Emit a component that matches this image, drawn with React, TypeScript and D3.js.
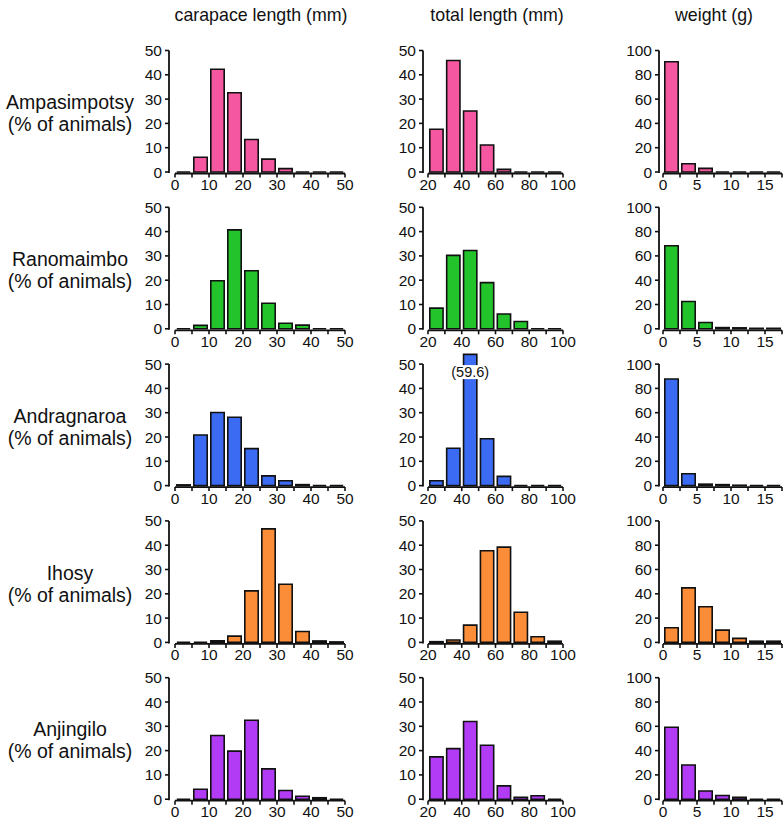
import React from "react";
import * as d3 from "d3";

const sites = ["Ampasimpotsy", "Ranomaimbo", "Andragnaroa", "Ihosy", "Anjingilo"];
const siteColors = ["#f557a0", "#23c42b", "#3b6bf3", "#fb8d38", "#b23cf6"];
const columnTitles = ["carapace length (mm)", "total length (mm)", "weight (g)"];

// bin edges
const carapaceEdges = [0, 5, 10, 15, 20, 25, 30, 35, 40, 45, 50];
const totalEdges = [20, 30, 40, 50, 60, 70, 80, 90, 100];
const weightEdges = [0, 2.5, 5, 7.5, 10, 12.5, 15, 17.5];

const carapaceTicks = [0, 10, 20, 30, 40, 50];
const totalTicks = [20, 40, 60, 80, 100];
const weightTicks = [0, 5, 10, 15];
const pctTicks50 = [0, 10, 20, 30, 40, 50];
const pctTicks100 = [0, 20, 40, 60, 80, 100];

// % of animals per bin
const carapaceAmpasimpotsy = [0, 6.1, 42.3, 32.6, 13.4, 5.3, 1.4, 0, 0, 0];
const carapaceRanomaimbo = [0, 1.4, 19.8, 40.7, 23.9, 10.5, 2.3, 1.5, 0, 0];
const carapaceAndragnaroa = [0.3, 20.8, 30.1, 28.1, 15.2, 4.0, 2.0, 0.4, 0, 0];
const carapaceIhosy = [0, 0, 0.7, 2.6, 21.2, 46.7, 23.9, 4.5, 0.6, 0.2];
const carapaceAnjingilo = [0, 4.1, 26.2, 19.8, 32.5, 12.5, 3.6, 1.2, 0.6, 0];

const totalAmpasimpotsy = [17.6, 45.9, 25.1, 11.1, 1.1, 0, 0, 0];
const totalRanomaimbo = [8.5, 30.2, 32.2, 19.0, 6.1, 3.0, 0, 0];
const totalAndragnaroa = [2.0, 15.4, 59.6, 19.3, 3.8, 0, 0, 0];
const totalIhosy = [0.3, 1.0, 7.1, 37.7, 39.2, 12.4, 2.3, 0.5];
const totalAnjingilo = [17.4, 20.8, 32.0, 22.2, 5.5, 0.8, 1.4, 0];

const weightAmpasimpotsy = [90.7, 6.8, 3.0, 0, 0, 0, 0];
const weightRanomaimbo = [68.4, 22.5, 5.2, 1.0, 0.8, 0.4, 0.4];
const weightAndragnaroa = [87.7, 9.8, 1.2, 0.8, 0.3, 0, 0];
const weightIhosy = [12.1, 44.9, 29.3, 10.1, 3.3, 1.0, 1.0];
const weightAnjingilo = [59.2, 28.2, 6.8, 3.0, 1.5, 0, 0];

const carapaceData = [carapaceAmpasimpotsy, carapaceRanomaimbo, carapaceAndragnaroa, carapaceIhosy, carapaceAnjingilo];
const totalData = [totalAmpasimpotsy, totalRanomaimbo, totalAndragnaroa, totalIhosy, totalAnjingilo];
const weightData = [weightAmpasimpotsy, weightRanomaimbo, weightAndragnaroa, weightIhosy, weightAnjingilo];

const FONT = "Arial, 'Liberation Sans', Helvetica, sans-serif";

const columns = [
  { edges: carapaceEdges, labels: carapaceTicks, yTicks: pctTicks50, yMax: 50, data: carapaceData, axisX: 169, x0: 175, x1: 345, cx: 261 },
  { edges: totalEdges, labels: totalTicks, yTicks: pctTicks50, yMax: 50, data: totalData, axisX: 423, x0: 428, x1: 563, cx: 497 },
  { edges: weightEdges, labels: weightTicks, yTicks: pctTicks100, yMax: 100, data: weightData, axisX: 659, x0: 663, x1: 782, cx: 714 },
];

const ROW_Y0 = 172;
const ROW_STEP = 156.8;
const PLOT_H = 121.5;
const CLIP_FRAC = 1.08; // clipped bar extends slightly above axis max

function Panel({ col, r }: { col: any; r: number }) {
  const y0 = ROW_Y0 + ROW_STEP * r;
  const x = d3.scaleLinear().domain([col.edges[0], col.edges[col.edges.length - 1]]).range([col.x0, col.x1]);
  const y = d3.scaleLinear().domain([0, col.yMax]).range([y0, y0 - PLOT_H]);
  const vals: number[] = col.data[r];
  const inset = 1.8;
  const color = siteColors[r];
  const axisY = y0 + 1.5;
  const clipped: { cx: number; v: number }[] = [];
  return (
    <g>
      {vals.map((v, i) => {
        const xa = x(col.edges[i]) + inset;
        const xb = x(col.edges[i + 1]) - inset;
        const vv = Math.min(v, col.yMax * CLIP_FRAC);
        if (v > col.yMax * CLIP_FRAC) clipped.push({ cx: (xa + xb) / 2, v });
        const yt = y(vv);
        const p = d3.path();
        p.moveTo(xa, y0);
        p.lineTo(xa, yt);
        p.lineTo(xb, yt);
        p.lineTo(xb, y0);
        p.closePath();
        return <path key={i} d={p.toString()} fill={color} stroke="#111" strokeWidth={1.6} strokeLinejoin="miter" />;
      })}
      {clipped.map((c, i) => (
        <g key={"c" + i}>
          <rect x={c.cx - 20} y={y(col.yMax) + 1} width={40} height={14} fill="#fff" />
          <text x={c.cx} y={y(col.yMax) + 13} textAnchor="middle" fontSize={14.5} fontFamily={FONT} fill="#111">
            ({c.v.toFixed(1)})
          </text>
        </g>
      ))}
      <line x1={col.axisX} x2={col.axisX} y1={y(col.yMax)} y2={y0 + 1} stroke="#111" strokeWidth={1.8} />
      {col.yTicks.map((t: number) => (
        <g key={"y" + t}>
          <line x1={col.axisX - 4} x2={col.axisX} y1={y(t)} y2={y(t)} stroke="#111" strokeWidth={1.6} />
          <text x={col.axisX - 7} y={y(t)} dy="0.36em" textAnchor="end" fontSize={15.5} fontFamily={FONT} fill="#111">
            {t}
          </text>
        </g>
      ))}
      <line x1={col.x0} x2={col.x1} y1={axisY} y2={axisY} stroke="#111" strokeWidth={1.8} />
      {col.edges.map((t: number) => (
        <line key={"xt" + t} x1={x(t)} x2={x(t)} y1={axisY} y2={axisY + 4} stroke="#111" strokeWidth={1.6} />
      ))}
      {col.labels.map((t: number) => (
        <text key={"xl" + t} x={x(t)} y={y0 + 18} textAnchor="middle" fontSize={15.5} fontFamily={FONT} fill="#111">
          {t}
        </text>
      ))}
    </g>
  );
}

export default function App() {
  return (
    <svg width={784} height={821} style={{ position: "absolute", left: 0, top: 0, background: "#fff" }}>
      <rect width={784} height={821} fill="#fff" />
      {columns.map((c, i) => (
        <text key={"t" + i} x={c.cx} y={21} textAnchor="middle" fontSize={17.8} fontFamily={FONT} fill="#111">
          {columnTitles[i]}
        </text>
      ))}
      {sites.map((s, r) => {
        const mid = ROW_Y0 + ROW_STEP * r - PLOT_H / 2;
        return (
          <g key={s}>
            <text x={70} y={mid - 2} textAnchor="middle" fontSize={19.5} fontFamily={FONT} fill="#111">
              {s}
            </text>
            <text x={70} y={mid + 20} textAnchor="middle" fontSize={19.5} fontFamily={FONT} fill="#111">
              (% of animals)
            </text>
          </g>
        );
      })}
      {sites.map((s, r) => columns.map((c, ci) => <Panel key={s + ci} col={c} r={r} />))}
    </svg>
  );
}
